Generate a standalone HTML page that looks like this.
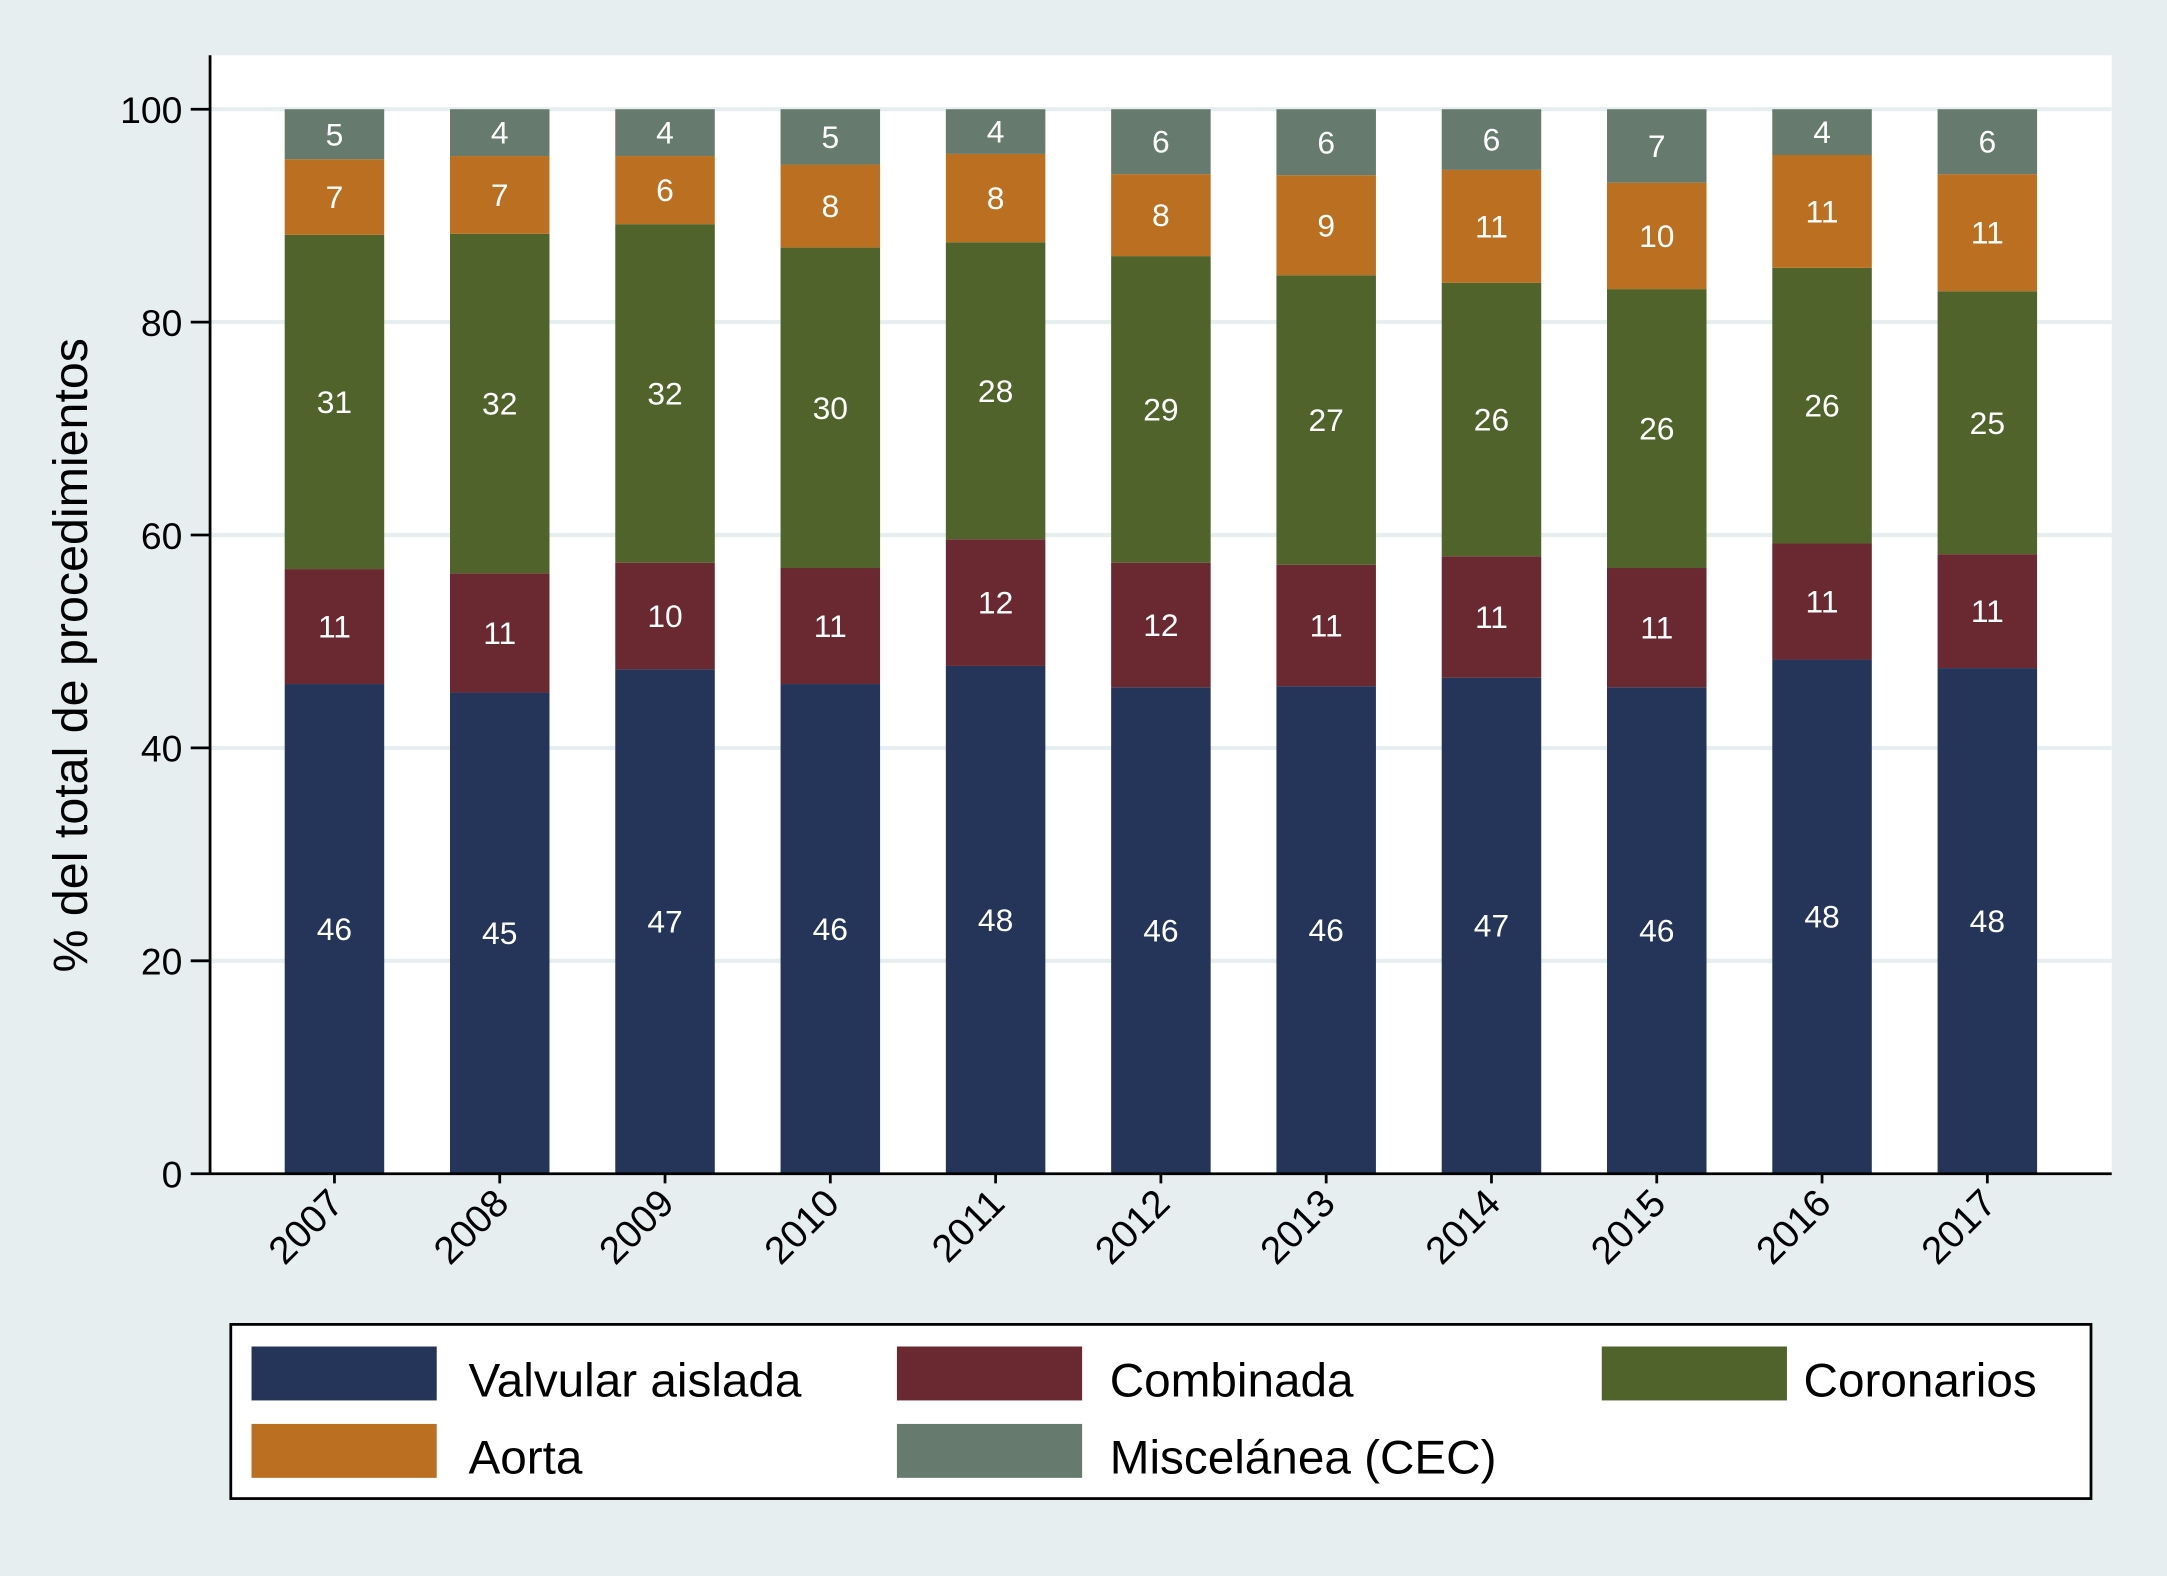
<!DOCTYPE html>
<html><head><meta charset="utf-8"><style>
html,body{margin:0;padding:0;background:#e6eef0}
svg{display:block;font-family:"Liberation Sans",sans-serif}
</style></head><body>
<svg id="chart" width="2167" height="1576" viewBox="0 0 1568 1140" preserveAspectRatio="none" xmlns="http://www.w3.org/2000/svg">
<rect x="0" y="0" width="1568" height="1140" fill="#e6eef0"/>
<rect x="152" y="40" width="1376" height="809" fill="#ffffff"/>
<g id="grid"></g>
<g id="bars"></g>
<line x1="152" y1="40" x2="152" y2="849" stroke="#000" stroke-width="2"/>
<line x1="152" y1="849" x2="1528" y2="849" stroke="#000" stroke-width="2"/>
<g id="yticks"></g>
<g id="xticks"></g>
<text transform="translate(63,474) rotate(-90)" text-anchor="middle" font-size="35" fill="#000">% del total de procedimientos</text>
<g>
<rect x="167" y="958" width="1346" height="126" fill="#fff" stroke="#000" stroke-width="2"/>
<rect x="182" y="974" width="134" height="39" fill="#253559"/>
<text x="339" y="1010" font-size="34.5">Valvular aislada</text>
<rect x="649" y="974" width="134" height="39" fill="#6a2830"/>
<text x="803" y="1010" font-size="34.5">Combinada</text>
<rect x="1159" y="974" width="134" height="39" fill="#4f632a"/>
<text x="1305" y="1010" font-size="34.5">Coronarios</text>
<rect x="182" y="1030" width="134" height="39" fill="#bb6f20"/>
<text x="339" y="1066" font-size="34.5">Aorta</text>
<rect x="649" y="1030" width="134" height="39" fill="#667a6d"/>
<text x="803" y="1066" font-size="34.5">Miscelánea (CEC)</text>
</g>
</svg>
<script>
const years = ["2007","2008","2009","2010","2011","2012","2013","2014","2015","2016","2017"];
const valvular = [46.0,45.2,47.4,46.0,47.7,45.7,45.8,46.6,45.7,48.3,47.5];
const combinada = [10.8,11.2,10.0,10.9,11.9,11.7,11.4,11.4,11.2,10.9,10.7];
const coronarios = [31.4,31.9,31.8,30.1,27.9,28.8,27.2,25.7,26.2,25.9,24.7];
const aorta = [7.1,7.3,6.4,7.8,8.3,7.7,9.4,10.6,10.0,10.6,11.0];
const miscelanea = [4.7,4.4,4.4,5.2,4.2,6.1,6.2,5.7,6.9,4.3,6.1];
const yTicks = [0,20,40,60,80,100];

const NS = "http://www.w3.org/2000/svg";
const y = v => 849 - v * 7.7;
const xc = i => 242 + i * 119.6;
const barW = 72;
const series = [
  {name:"valvular", vals:valvular, color:"#253559"},
  {name:"combinada", vals:combinada, color:"#6a2830"},
  {name:"coronarios", vals:coronarios, color:"#4f632a"},
  {name:"aorta", vals:aorta, color:"#bb6f20"},
  {name:"miscelanea", vals:miscelanea, color:"#667a6d"}
];
function mk(tag, attrs, parent){const e=document.createElementNS(NS,tag);for(const k in attrs)e.setAttribute(k,attrs[k]);parent.appendChild(e);return e;}
const grid=document.getElementById('grid'), bars=document.getElementById('bars'), yt=document.getElementById('yticks'), xt=document.getElementById('xticks');
yTicks.forEach(t=>{
  if(t>0){const g=mk('line',{x1:153,x2:1528,y1:y(t),y2:y(t),stroke:'#e6eef0','stroke-width':3},grid);
  
  }
  const tk=mk('line',{x1:138,x2:152,y1:y(t),y2:y(t),stroke:'#000','stroke-width':2},yt);
  
  
  const tl=mk('text',{x:132,y:y(t)+10,'text-anchor':'end','font-size':27},yt);
  tl.textContent=t;
  
  
});
years.forEach((yr,i)=>{
  let cum=0;
  series.forEach(s=>{
    const v=s.vals[i], y0=y(cum), y1=y(cum+v);
    const r=mk('rect',{x:xc(i)-barW/2,y:y1,width:barW,height:y0-y1,fill:s.color},bars);
    
    
    const l=mk('text',{x:xc(i),y:(y0+y1)/2+8,'text-anchor':'middle','font-size':23,fill:'#fff'},bars);
    l.textContent=Math.round(v);
    
    
    cum+=v;
  });
  const tk=mk('line',{x1:xc(i),x2:xc(i),y1:849,y2:856,stroke:'#000','stroke-width':2},xt);
  
  
  const xl=mk('text',{transform:`translate(${xc(i)+8},872) rotate(-45)`,'text-anchor':'end','font-size':28},xt);
  xl.textContent=yr;
  
  
});
</script>
</body></html>
